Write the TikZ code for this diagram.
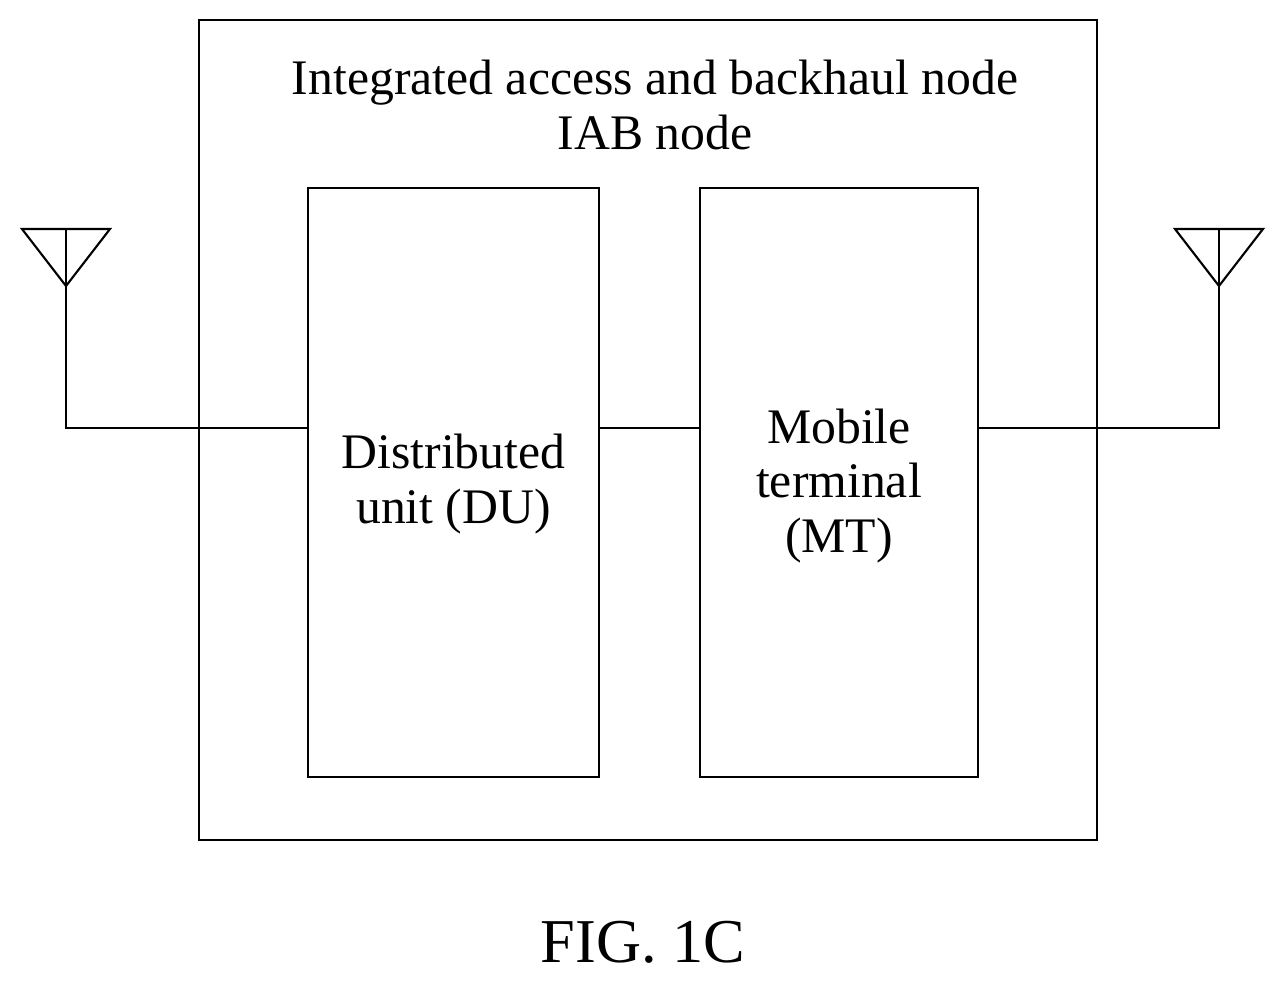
\documentclass[tikz,border=0pt]{standalone}
\usepackage{fontspec}
\setmainfont{Liberation Serif}
\begin{document}
\begin{tikzpicture}[x=0.02cm,y=-0.02cm,line width=1.2pt,
  box/.style={draw,inner sep=0pt},
  lbl/.style={font=\fontsize{28.3}{31}\selectfont,align=center}]
\useasboundingbox (0,0) rectangle (1286,982);
\draw (199,20) rectangle (1097,840);
\node[box,minimum width=291*0.02cm,minimum height=589*0.02cm] (du) at (453.5,482.5) {};
\node[box,minimum width=278*0.02cm,minimum height=589*0.02cm] (mt) at (839,482.5) {};
\node[lbl] (t) at (655,105) {Integrated access and backhaul node\\IAB node};
\node[lbl] (dut) at (453.5,484) {Distributed\\unit (DU)};
\node[lbl] (mtt) at (839,486) {Mobile\\terminal\\(MT)};
\node[font=\fontsize{35.5}{40}\selectfont] (fig) at (643,942) {FIG. 1C};
\coordinate (la) at (66,229); \coordinate (lb) at (66,428);
\coordinate (ra) at (1219,229); \coordinate (rb) at (1219,428);
\draw (22,229) -- (110,229) -- (66,286) -- cycle;
\draw (1175,229) -- (1263,229) -- (1219,286) -- cycle;
\draw (la) -- (lb) -- (du.west |- lb);
\draw (ra) -- (rb) -- (mt.east |- rb);
\draw (du.east |- lb) -- (mt.west |- lb);
\end{tikzpicture}
\end{document}
